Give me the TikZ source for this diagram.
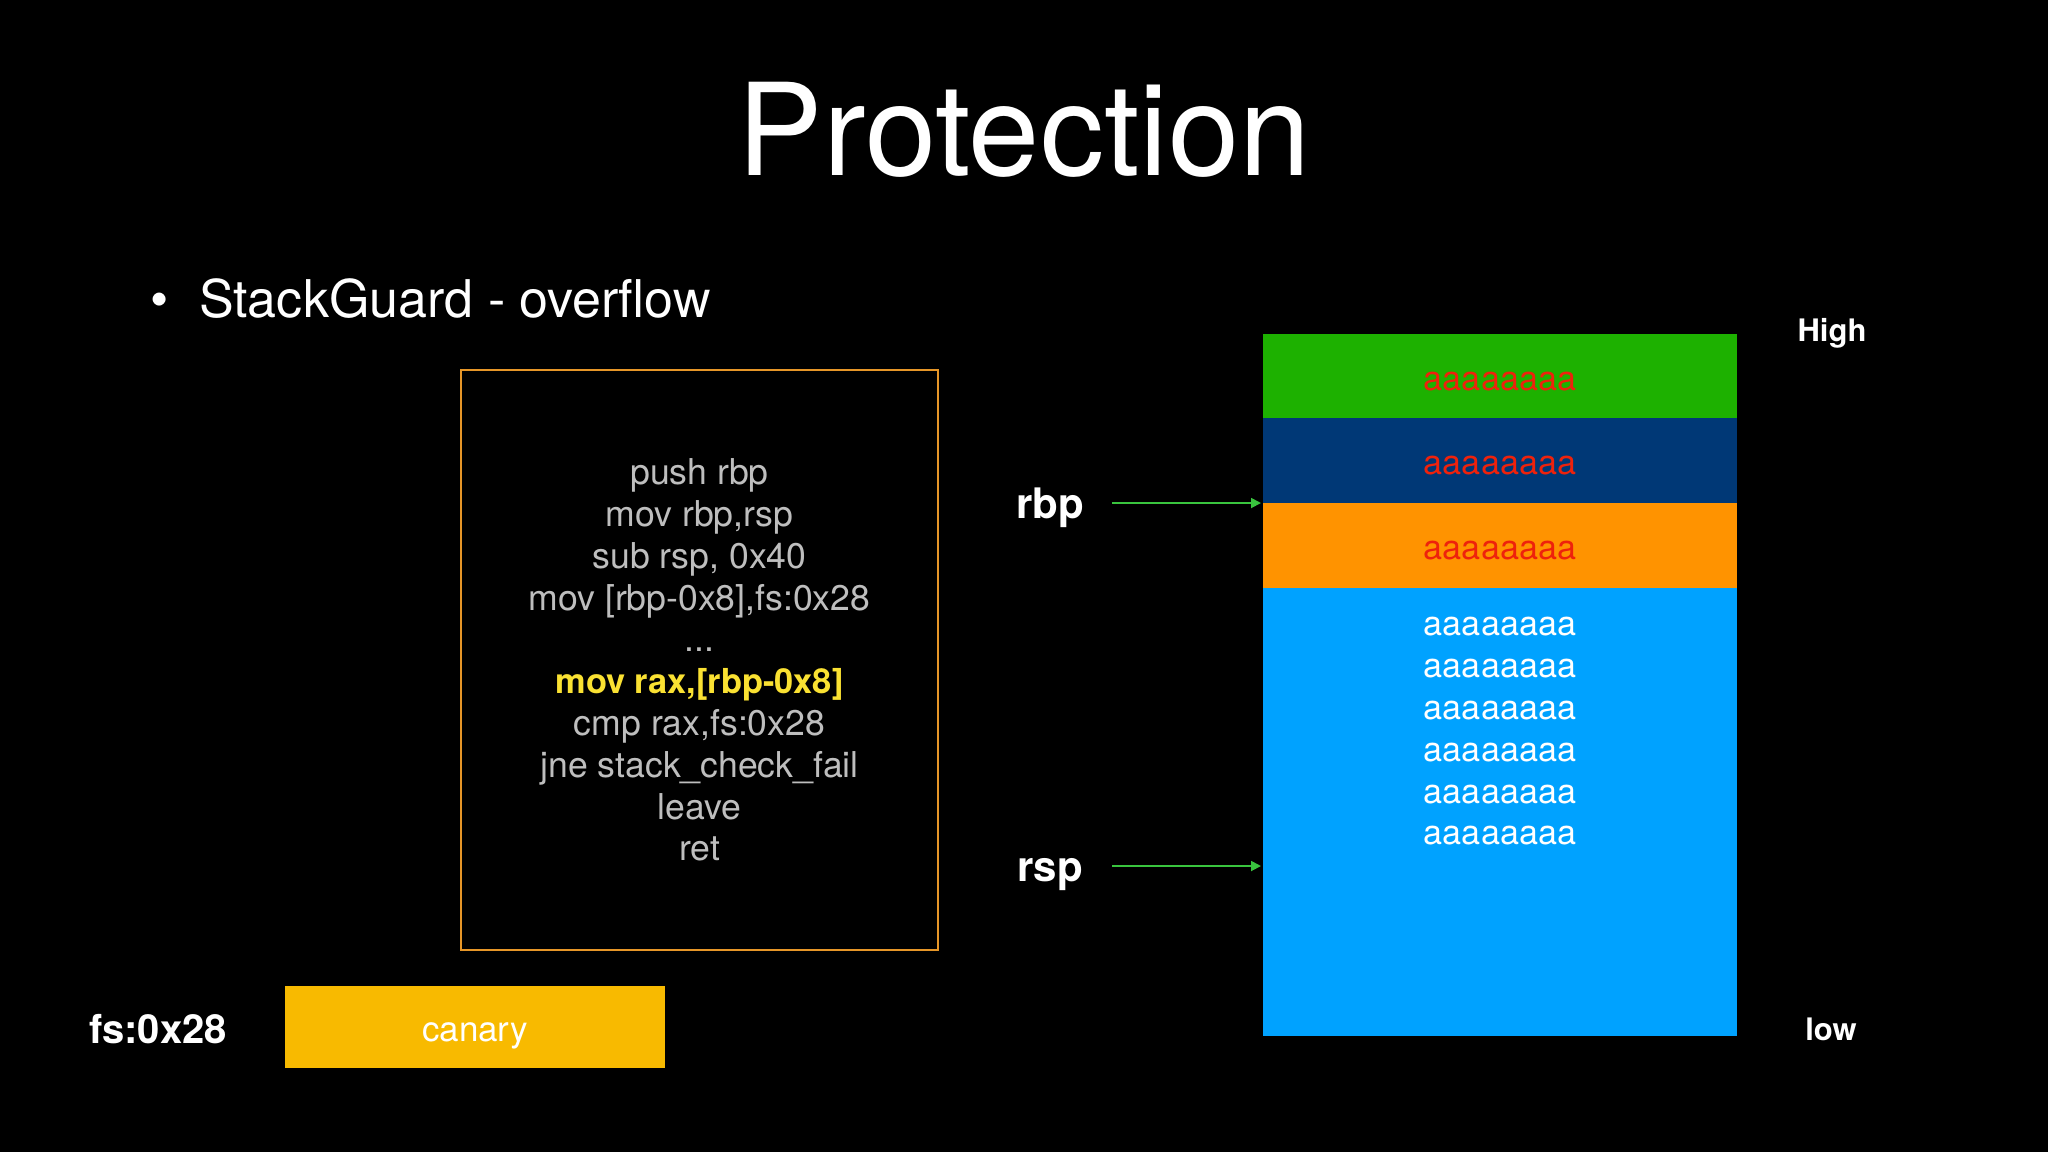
\documentclass[tikz,border=0pt]{standalone}
\usepackage{fontspec}
\setmainfont{TeX Gyre Heros}
\usetikzlibrary{positioning}
\usetikzlibrary{arrows.meta}

\definecolor{kgreen}{RGB}{29,177,0}
\definecolor{knavy}{RGB}{0,56,118}
\definecolor{korange}{RGB}{255,147,0}
\definecolor{kblue}{RGB}{0,162,255}
\definecolor{kred}{RGB}{238,34,12}
\definecolor{kcanary}{RGB}{248,186,0}
\definecolor{kframe}{RGB}{230,150,40}
\definecolor{kcode}{RGB}{190,190,190}
\definecolor{kyellow}{RGB}{250,225,50}
\definecolor{kptr}{RGB}{57,196,62}

\tikzset{
  band/.style={minimum width=237pt, inner sep=0pt, outer sep=0pt, anchor=north,
    font=\fontsize{17.1}{21}\selectfont},
  smashed/.style={band, text=kred, text height=14pt, text depth=0pt},
  filler/.style={text=white, font=\fontsize{17.1}{21}\selectfont},
  reg/.style={text=white, font=\fontsize{21}{25}\selectfont\bfseries},
  side/.style={text=white, font=\fontsize{15.5}{18}\selectfont\bfseries},
  ptr/.style={draw=kptr, line width=0.9pt, shorten >=1pt,
    -{Triangle[length=5pt,width=5pt]}},
}

\begin{document}
\begin{tikzpicture}[x=0.5pt,y=-0.5pt]
        \fill[black] (0,0) rectangle (2048,1152);
        \useasboundingbox (0,0) rectangle (2048,1152);
        % heading
        \node[text=white, font=\fontsize{64}{70}\selectfont] (title) at (1024,130) {Protection};
        \node[text=white, font=\fontsize{26}{30}\selectfont, anchor=west] (sg) at (192,299) {StackGuard - overflow};
        \node[text=white, font=\fontsize{26}{30}\selectfont] (dot) at (160,305) {•};
        % code
        \node[draw=kframe, line width=1pt, minimum width=238.5pt, minimum height=290pt] (frame) at (699.5,660) {};
        \node[align=center, text=kcode, font=\fontsize{17.8}{20.9}\selectfont] (code) at (699.5,660)
            {push rbp\\mov rbp,rsp\\sub rsp, 0x40\\mov [rbp-0x8],fs:0x28\\...\\
             {\fontsize{17.2}{20.9}\selectfont\bfseries\color{kyellow}mov rax,[rbp-0x8]}\\cmp rax,fs:0x28\\jne stack\_check\_fail\\leave\\ret};
        % canary
        \node[text=white, font=\fontsize{20}{24}\selectfont\bfseries] (fs) at (158,1029) {fs:0x28};
        \node[fill=kcanary, text=white, minimum width=190pt, minimum height=41pt, inner sep=0pt,
            text height=14.5pt, text depth=0pt, font=\fontsize{17.5}{21}\selectfont] (canary) at (475,1027) {canary};
        % stack
        \node[smashed, fill=kgreen, minimum height=42pt] (ret) at (1500,334) {aaaaaaaa};
        \node[smashed, fill=knavy, minimum height=42.5pt, below=0pt of ret] (saved) {aaaaaaaa};
        \node[smashed, fill=korange, minimum height=42.5pt, below=0pt of saved] (guard) {aaaaaaaa};
        \node[band, fill=kblue, minimum height=224pt, below=0pt of guard] (buffer) {};
        \foreach \i in {0,...,5} {
            \node[filler] (buf\i) at (1500,{627+41.8*\i}) {aaaaaaaa};
        }
        \node[side] (high) at (1832,333) {High};
        \node[side] (low) at (1831,1029) {low};
        % pointers
        \node[reg] (rbp) at (1050,508) {rbp};
        \node[reg] (rsp) at (1050,875) {rsp};
        \coordinate (rbptail) at (1112,503);
        \coordinate (rsptail) at (1112,866);
        \coordinate (rsphead) at (1263,866);
        \draw[ptr] (rbptail) -- (guard.north west);
        \draw[ptr] (rsptail) -- (rsphead);
    \end{tikzpicture}
\end{document}
